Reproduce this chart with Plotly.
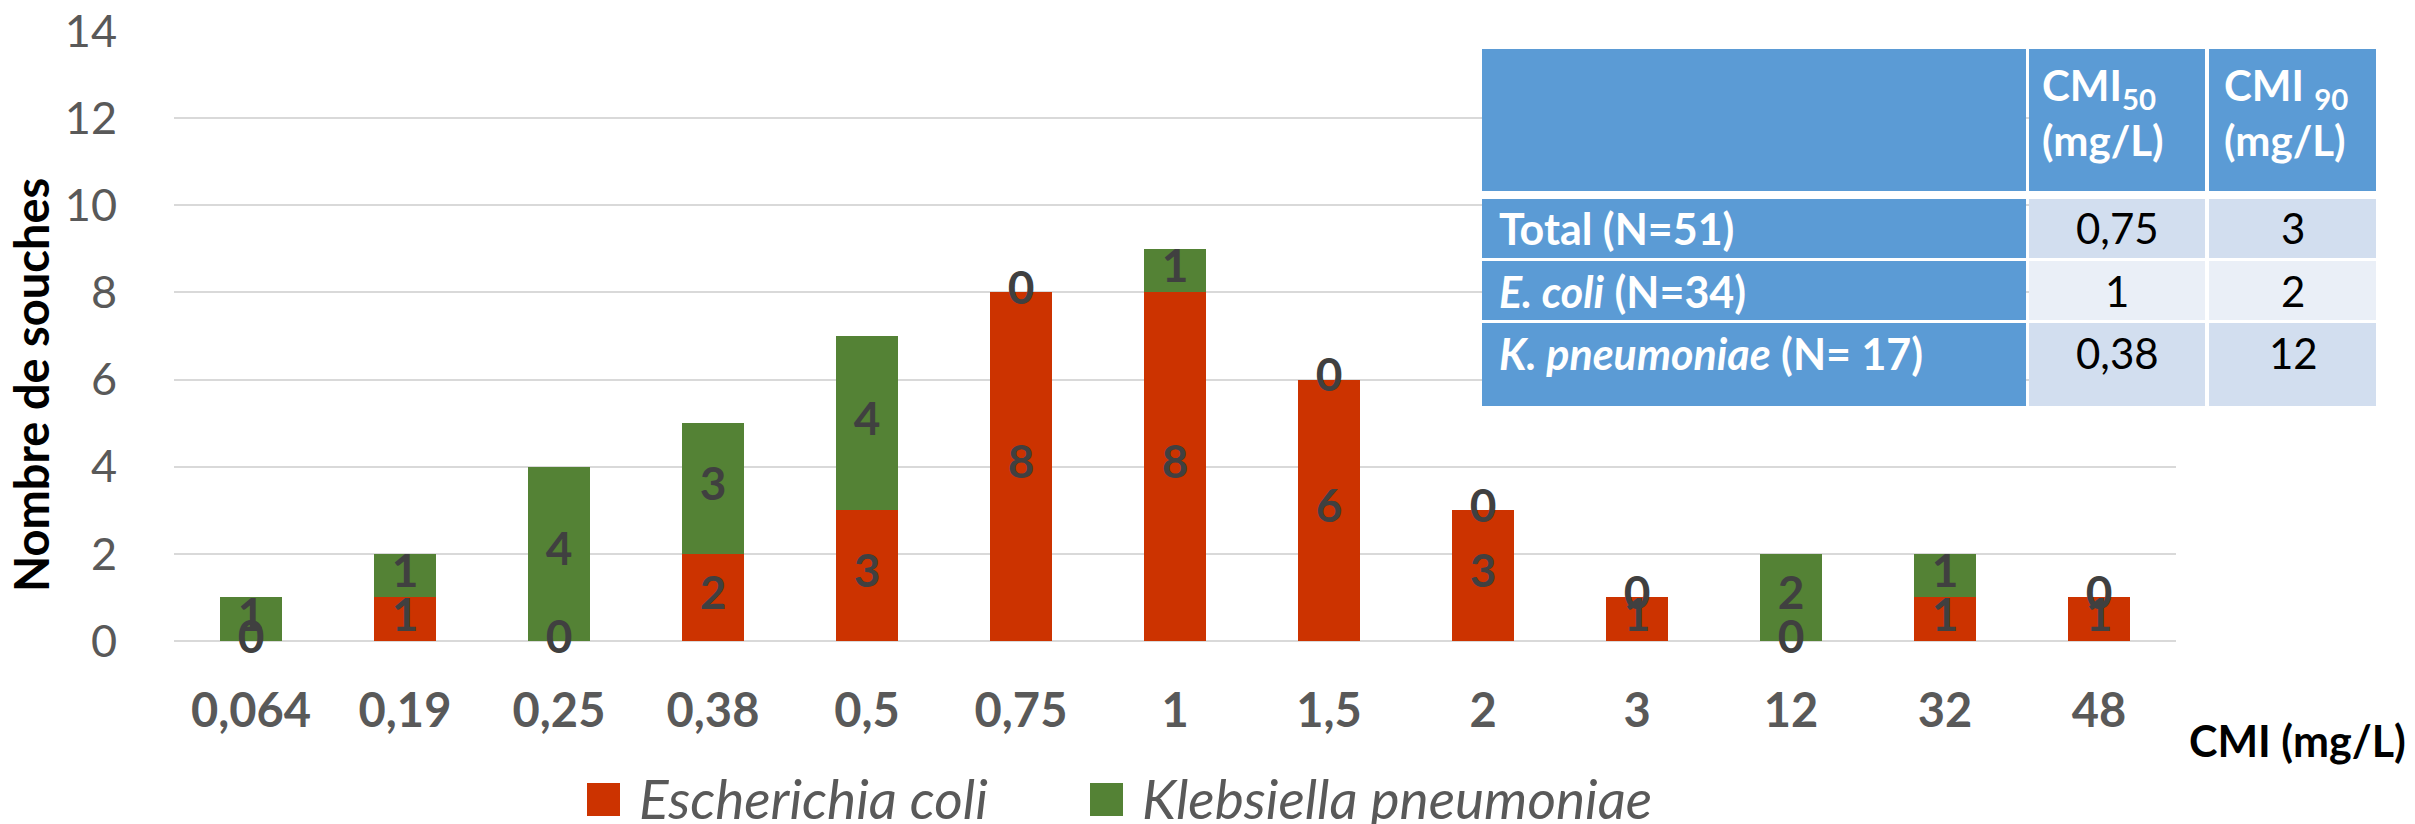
import plotly.graph_objects as go

# ---- data ----
categories = ['0,064', '0,19', '0,25', '0,38', '0,5', '0,75', '1', '1,5', '2', '3', '12', '32', '48']
ecoli = [0, 1, 0, 2, 3, 8, 8, 6, 3, 1, 0, 1, 1]
kleb = [1, 1, 4, 3, 4, 0, 1, 0, 0, 0, 2, 1, 0]
series_names = ['Escherichia coli', 'Klebsiella pneumoniae']
y_ticks = [0, 2, 4, 6, 8, 10, 12, 14]

table_header = ['', 'CMI<sub>50</sub><br>(mg/L)', 'CMI <sub>90</sub><br>(mg/L)']
table_rows = ['Total (N=51)', '<i>E. coli</i> (N=34)', '<i>K. pneumoniae</i> (N= 17)']
cmi50 = ['0,75', '1', '0,38']
cmi90 = ['3', '2', '12']

RED = '#CC3300'
GREEN = '#548235'
BLUE = '#5B9BD5'
CELL_A = '#D2DEEF'
CELL_B = '#EAEFF7'
FONT = 'Lato, Carlito, sans-serif'

# page offset of the figure (default body margin of the html page)
OFF = 8
PAGE_W, PAGE_H = 2415, 824
PLOT_L, PLOT_R, PLOT_T, PLOT_B = 174, 2176, 31, 641   # page pixels
W, H = PAGE_W - OFF, PAGE_H - OFF
PW, PH = PLOT_R - PLOT_L, PLOT_B - PLOT_T
ML, MT = PLOT_L - OFF, PLOT_T - OFF
MR, MB = W - ML - PW, H - MT - PH


def px(X):
    return (X - PLOT_L) / PW


def py(Y):
    return (PLOT_B - Y) / PH


fig = go.Figure()
fig.add_trace(go.Bar(x=categories, y=ecoli, name=series_names[0], marker_color=RED,
                     marker_line_width=0, showlegend=False, hoverinfo='x+y+name'))
fig.add_trace(go.Bar(x=categories, y=kleb, name=series_names[1], marker_color=GREEN,
                     marker_line_width=0, showlegend=False, hoverinfo='x+y+name'))

# data labels (centre of each segment, as in the original)
e_mid = [e / 2 for e in ecoli]
k_mid = [e + k / 2 for e, k in zip(ecoli, kleb)]
lab_font = dict(family=FONT, size=46, color='#404040', weight='bold')
fig.add_trace(go.Scatter(x=categories, y=k_mid, mode='text', text=[str(v) for v in kleb],
                         textfont=lab_font, showlegend=False, hoverinfo='skip', cliponaxis=False))
fig.add_trace(go.Scatter(x=categories, y=e_mid, mode='text', text=[str(v) for v in ecoli],
                         textfont=lab_font, showlegend=False, hoverinfo='skip', cliponaxis=False))

shapes = []
annotations = []

# ---- table ----
col_x = [(1482, 2026), (2029, 2205), (2209, 2376)]
row_y = [(49, 191), (199, 258), (261, 320), (323, 406)]
for ri, (y0, y1) in enumerate(row_y):
    for ci, (x0, x1) in enumerate(col_x):
        if ri == 0 or ci == 0:
            col = BLUE
        else:
            col = CELL_B if ri == 2 else CELL_A
        shapes.append(dict(type='rect', xref='paper', yref='paper', x0=px(x0), x1=px(x1),
                           y0=py(y1), y1=py(y0), fillcolor=col, line_width=0, layer='above'))

head_x = [None, 2040, 2222]
for ci in (1, 2):
    annotations.append(dict(xref='paper', yref='paper', x=px(head_x[ci]), y=py(112),
                            xanchor='left', yanchor='middle', showarrow=False, align='left',
                            text='<b>' + table_header[ci] + '</b>',
                            font=dict(family=FONT, size=42, color='white')))
text_y = [228, 291, 353]
for ri in range(3):
    annotations.append(dict(xref='paper', yref='paper', x=px(1497), y=py(text_y[ri]),
                            xanchor='left', yanchor='middle', showarrow=False,
                            text='<b>' + table_rows[ri] + '</b>',
                            font=dict(family=FONT, size=43, color='white')))
    annotations.append(dict(xref='paper', yref='paper', x=px(2117), y=py(text_y[ri]),
                            xanchor='center', yanchor='middle', showarrow=False,
                            text=cmi50[ri], font=dict(family=FONT, size=42, color='black')))
    annotations.append(dict(xref='paper', yref='paper', x=px(2293), y=py(text_y[ri]),
                            xanchor='center', yanchor='middle', showarrow=False,
                            text=cmi90[ri], font=dict(family=FONT, size=42, color='black')))

# ---- legend (custom, large swatches) ----
leg = [(587, 620, 637, RED, series_names[0]), (1090, 1123, 1140, GREEN, series_names[1])]
for x0, x1, tx, col, name in leg:
    shapes.append(dict(type='rect', xref='paper', yref='paper', x0=px(x0), x1=px(x1),
                       y0=py(816), y1=py(783), fillcolor=col, line_width=0))
    annotations.append(dict(xref='paper', yref='paper', x=px(tx), y=py(798),
                            xanchor='left', yanchor='middle', showarrow=False,
                            text='<i>' + name + '</i>',
                            font=dict(family=FONT, size=55, color='#595959')))

# axis titles
annotations.append(dict(xref='paper', yref='paper', x=px(2408), y=py(740),
                        xanchor='right', yanchor='middle', showarrow=False,
                        text='<b>CMI (mg/L)</b>', font=dict(family=FONT, size=43, color='black')))
annotations.append(dict(xref='paper', yref='paper', x=px(31), y=py(385),
                        xanchor='center', yanchor='middle', showarrow=False, textangle=-90,
                        text='<b>Nombre de souches</b>', font=dict(family=FONT, size=47, color='black')))

fig.update_layout(
    width=W, height=H,
    margin=dict(l=ML, r=MR, t=MT, b=MB, autoexpand=False),
    paper_bgcolor='white', plot_bgcolor='white',
    barmode='stack', bargap=0.6,
    showlegend=False,
    shapes=shapes, annotations=annotations,
    font=dict(family=FONT),
)
fig.update_xaxes(type='category', range=[-0.5, len(categories) - 0.5], showgrid=False,
                 showline=False, ticks='',
                 tickfont=dict(family=FONT, size=47, color='#595959', weight='bold'),
                 ticklabelstandoff=38)
fig.update_yaxes(range=[0, 14], tickvals=y_ticks, showgrid=True, gridcolor='#D9D9D9', gridwidth=2,
                 zeroline=True, zerolinecolor='#D9D9D9', zerolinewidth=2, ticks='',
                 tickfont=dict(family=FONT, size=45, color='#595959'), ticklabelstandoff=56,
                 ticklabeloverflow='allow')

fig.write_html('out.html')
